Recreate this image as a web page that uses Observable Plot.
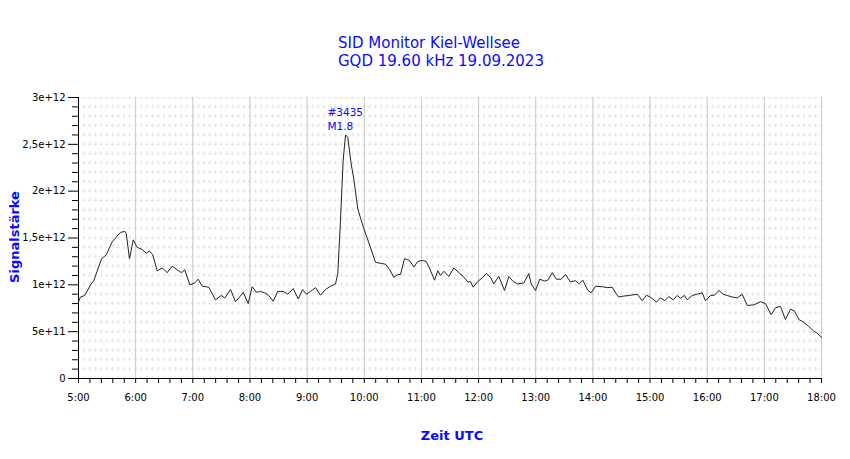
<!DOCTYPE html>
<html>
<head>
<meta charset="utf-8">
<script src="https://cdn.jsdelivr.net/npm/d3@7"></script>
<script src="https://cdn.jsdelivr.net/npm/@observablehq/plot@0.6"></script>
<style>
  html, body { margin: 0; padding: 0; background: #fff; }
  #wrap { position: relative; width: 850px; height: 459px; overflow: hidden; font-family: "DejaVu Sans", Verdana, sans-serif; }
  #wrap svg { position: absolute; left: 0; top: 0; }
  .title { position: absolute; left: 338px; top: 34px; color: #0a0aff; font-size: 15px; line-height: 18px; white-space: nowrap; }
  .lab { position: absolute; color: #0a0aff; font-weight: bold; font-size: 13px; white-space: nowrap; transform: translate(-50%, -50%); }
  .ylab { transform: translate(-50%, -50%) rotate(-90deg); }
</style>
</head>
<body>
<div id="wrap">
  <div class="title">SID Monitor Kiel-Wellsee<br>GQD 19.60 kHz 19.09.2023</div>
  <div class="lab ylab" style="left:14px; top:237px;">Signalstärke</div>
  <div class="lab" style="left:452px; top:435px;">Zeit UTC</div>
</div>
<script>
// Time of day (UTC, decimal hours) and signal strength (units of 1e12)
const timeHours = [
  5.000, 5.035, 5.110, 5.210, 5.268, 5.402, 5.485, 5.590, 5.735, 5.810, 5.835, 5.892, 5.957,
  6.027, 6.115, 6.185, 6.242, 6.300, 6.377, 6.465, 6.552, 6.640, 6.727, 6.802, 6.860, 6.947,
  7.035, 7.094, 7.164, 7.280, 7.397, 7.497, 7.560, 7.660, 7.747, 7.805, 7.882, 7.969,
  8.039, 8.115, 8.185, 8.272, 8.330, 8.407, 8.487, 8.582, 8.662, 8.757, 8.844, 8.919, 8.989,
  9.059, 9.147, 9.234, 9.322, 9.409, 9.497, 9.537, 9.584, 9.631, 9.672, 9.712, 9.771, 9.817, 9.887, 9.992,
  10.097, 10.196, 10.284, 10.371, 10.447, 10.517, 10.587, 10.634, 10.704, 10.791, 10.867, 10.937,
  11.014, 11.084, 11.147, 11.229, 11.287, 11.334, 11.392, 11.479, 11.567, 11.654, 11.731, 11.812, 11.859, 11.906, 11.976,
  12.063, 12.139, 12.209, 12.266, 12.354, 12.454, 12.529, 12.606, 12.686, 12.791, 12.879, 12.921, 12.996,
  13.071, 13.154, 13.212, 13.288, 13.363, 13.446, 13.521, 13.608, 13.696, 13.754, 13.824, 13.911, 13.971,
  14.046, 14.163, 14.251, 14.338, 14.413, 14.454, 14.541, 14.629, 14.775, 14.863, 14.938,
  15.026, 15.113, 15.183, 15.258, 15.328, 15.406, 15.475, 15.533, 15.603, 15.650, 15.738, 15.825, 15.913, 15.970,
  16.058, 16.128, 16.203, 16.280, 16.350, 16.437, 16.525, 16.612, 16.700, 16.815, 16.932,
  17.020, 17.120, 17.195, 17.283, 17.370, 17.458, 17.528, 17.604, 17.690, 17.778, 17.865, 17.925, 18.000
];
const signalE12 = [
  0.82, 0.87, 0.886, 1.00, 1.045, 1.277, 1.32, 1.46, 1.56, 1.57, 1.55, 1.277, 1.48,
  1.40, 1.377, 1.337, 1.36, 1.32, 1.15, 1.18, 1.13, 1.20, 1.16, 1.13, 1.16, 1.00,
  1.02, 1.06, 0.985, 0.975, 0.84, 0.886, 0.86, 0.95, 0.82, 0.86, 0.92, 0.80,
  0.98, 0.92, 0.93, 0.91, 0.886, 0.825, 0.93, 0.93, 0.90, 0.96, 0.85, 0.95, 0.90,
  0.93, 0.97, 0.89, 0.95, 0.985, 1.01, 1.12, 1.69, 2.33, 2.60, 2.575, 2.29, 2.13, 1.81, 1.60,
  1.42, 1.24, 1.23, 1.22, 1.16, 1.08, 1.11, 1.11, 1.28, 1.26, 1.19, 1.25,
  1.26, 1.25, 1.17, 1.05, 1.15, 1.10, 1.145, 1.09, 1.18, 1.13, 1.09, 1.03, 1.035, 0.975, 1.03,
  1.075, 1.12, 1.08, 1.01, 1.09, 0.94, 1.09, 1.035, 1.01, 1.02, 1.12, 1.01, 0.94,
  1.06, 1.04, 1.05, 1.13, 1.06, 1.06, 1.11, 1.03, 1.045, 1.01, 1.05, 0.94, 0.915,
  0.985, 0.98, 0.97, 0.975, 0.90, 0.87, 0.88, 0.886, 0.90, 0.83, 0.89,
  0.86, 0.815, 0.86, 0.83, 0.875, 0.84, 0.886, 0.857, 0.886, 0.84, 0.886, 0.90, 0.915, 0.83,
  0.886, 0.89, 0.94, 0.90, 0.886, 0.87, 0.86, 0.90, 0.78, 0.786, 0.82,
  0.80, 0.68, 0.755, 0.77, 0.63, 0.74, 0.72, 0.63, 0.60, 0.555, 0.505, 0.483, 0.44
];
const xTickHours = [5, 6, 7, 8, 9, 10, 11, 12, 13, 14, 15, 16, 17, 18];
const xTickLabels = ["5:00","6:00","7:00","8:00","9:00","10:00","11:00","12:00","13:00","14:00","15:00","16:00","17:00","18:00"];
const yTickValues = [0, 5e11, 1e12, 1.5e12, 2e12, 2.5e12, 3e12];
const yTickLabels = ["0", "5e+11", "1e+12", "1,5e+12", "2e+12", "2,5e+12", "3e+12"];
const flareLabels = ["#3435", "M1.8"];

const data = timeHours.map((t, i) => ({t, v: signalE12[i] * 1e12}));
const peak = data[d3.maxIndex(data, d => d.v)];

const xMinorGrid = d3.range(5, 18.0001, 0.1).map(d => +d.toFixed(2));
const xMinorTicks = d3.range(5, 18.0001, 0.2).map(d => +d.toFixed(2)).filter(d => !xTickHours.includes(d));
const yMinor = d3.range(0, 3.0001e12, 1e11);
const yMinorTicks = yMinor.filter(d => !yTickValues.includes(d));
const xLabelMap = new Map(xTickHours.map((h, i) => [h, xTickLabels[i]]));
const yLabelMap = new Map(yTickValues.map((v, i) => [v, yTickLabels[i]]));

// dash patterns synced with grid spacing so dashes cross at intersections
const W = 850, H = 459, mL = 78, mR = 29, mT = 97, mB = 81;
const xStep = (W - mL - mR) / (xMinorGrid.length - 1);
const yStep = (H - mT - mB) / (yMinor.length - 1);

const chart = Plot.plot({
  width: W,
  height: H,
  marginTop: mT,
  marginBottom: mB,
  marginLeft: mL,
  marginRight: mR,
  style: {fontFamily: "DejaVu Sans, Verdana, sans-serif", fontSize: "10px", color: "#000", background: "transparent"},
  x: {domain: [5, 18]},
  y: {domain: [0, 3e12]},
  marks: [
    Plot.gridX(xMinorGrid, {stroke: "#e4e4e4", strokeOpacity: 1, strokeDasharray: `4,${yStep - 4}`, strokeDashoffset: 2}),
    Plot.gridY(yMinor, {stroke: "#e4e4e4", strokeOpacity: 1, strokeDasharray: `3,${xStep - 3}`, strokeDashoffset: 1.5}),
    Plot.gridX(xTickHours, {stroke: "#c8c8c8", strokeOpacity: 1}),
    Plot.axisX(xMinorTicks, {tickSize: 5, tickFormat: () => "", label: null, stroke: "#000"}),
    Plot.axisX(xTickHours, {tickSize: 5, tickPadding: 10, tickFormat: d => xLabelMap.get(d), label: null, stroke: "#000"}),
    Plot.axisY(yMinorTicks, {tickSize: 6, tickFormat: () => "", label: null, stroke: "#000"}),
    Plot.axisY(yTickValues, {tickSize: 10, tickPadding: 3, tickFormat: d => yLabelMap.get(d), label: null, stroke: "#000"}),
    Plot.ruleY([0], {stroke: "#000"}),
    Plot.ruleX([5], {stroke: "#000"}),
    Plot.line(data, {x: "t", y: "v", stroke: "#222", strokeWidth: 1}),
    Plot.text([peak], {x: "t", y: "v", text: () => flareLabels.join("\n"), textAnchor: "start", lineAnchor: "bottom",
      dx: -18, dy: -5, fill: "#0a0aff", fontSize: 10.5, lineHeight: 1.33})
  ]
});
document.getElementById("wrap").prepend(chart);
</script>
</body>
</html>
